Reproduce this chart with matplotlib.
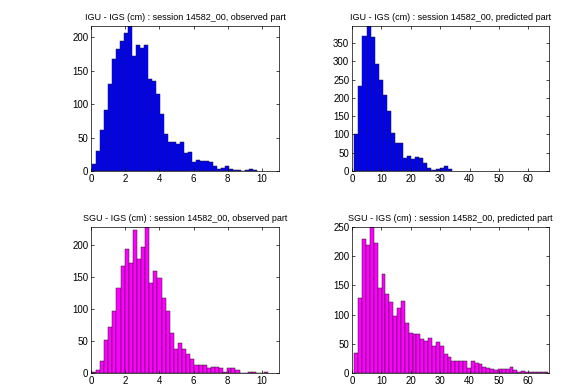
import numpy as np
import matplotlib
matplotlib.use("Agg")
import matplotlib.pyplot as plt

plt.rcParams['font.family'] = ['Liberation Sans', 'DejaVu Sans']

# histogram counts (bin start, bin width, counts)
igu_obs_start, igu_obs_width = 0.06, 0.235
igu_obs_counts = [10, 30, 62, 92, 130, 167, 183, 194, 207, 217, 172, 189, 184, 189,
                  137, 134, 115, 85, 56, 43, 43, 41, 44, 27, 29, 14, 16, 15, 15, 14,
                  8, 3, 5, 8, 3, 1, 2, 0, 2, 3, 2]

igu_pred_start, igu_pred_width = 0.8, 1.38
igu_pred_counts = [101, 233, 370, 397, 367, 293, 250, 208, 163, 103, 76, 76, 35, 41,
                   33, 37, 35, 23, 7, 3, 5, 8, 14, 5]

sgu_obs_start, sgu_obs_width = 0.05, 0.24
sgu_obs_counts = [2, 5, 18, 51, 72, 97, 132, 167, 193, 172, 224, 178, 196, 228, 141,
                  160, 148, 117, 97, 62, 38, 47, 37, 30, 22, 12, 12, 13, 8, 9, 10, 8,
                  2, 8, 8, 4, 0, 0, 2, 2, 0, 0, 1]

sgu_pred_start, sgu_pred_width = 0.8, 1.32
sgu_pred_counts = [35, 128, 229, 220, 250, 222, 146, 170, 136, 122, 98, 111, 124, 85,
                   69, 67, 67, 59, 54, 60, 46, 53, 46, 32, 27, 21, 20, 21, 20, 8, 21,
                   17, 15, 10, 8, 7, 5, 7, 7, 6, 11, 5, 1, 3, 2, 1, 2, 1, 1, 1]

titles = ["IGU - IGS (cm) : session 14582_00, observed part",
          "IGU - IGS (cm) : session 14582_00, predicted part",
          "SGU - IGS (cm) : session 14582_00, observed part",
          "SGU - IGS (cm) : session 14582_00, predicted part"]

panels = [
    (igu_obs_start, igu_obs_width, igu_obs_counts, (0, 11), np.arange(0, 11, 2), np.arange(0, 201, 50), 'blue'),
    (igu_pred_start, igu_pred_width, igu_pred_counts, (0, 67), np.arange(0, 61, 10), np.arange(0, 351, 50), 'blue'),
    (sgu_obs_start, sgu_obs_width, sgu_obs_counts, (0, 11), np.arange(0, 11, 2), np.arange(0, 201, 50), 'magenta'),
    (sgu_pred_start, sgu_pred_width, sgu_pred_counts, (0, 67), np.arange(0, 61, 10), np.arange(0, 251, 50), 'magenta'),
]

W, H = 579, 384
fig = plt.figure(figsize=(W / 100, H / 100), dpi=100)

# axes boxes in pixels: left, top, right, bottom
boxes = [(91, 26, 279, 171), (352, 26, 549, 171),
         (91, 227, 279, 373), (352, 227, 549, 373)]

for (start, width, counts, xlim, xt, yt, color), title, (l, t, r, b) in zip(panels, titles, boxes):
    ax = fig.add_axes([l / W, 1 - b / H, (r - l) / W, (b - t) / H])
    counts = np.array(counts)
    lefts = start + width * np.arange(len(counts))
    ax.bar(lefts, counts, width=width, align='edge', color=color,
           edgecolor='#202020', linewidth=0.35)
    ax.set_xlim(*xlim)
    ax.set_ylim(0, counts.max())
    ax.set_xticks(xt)
    ax.set_yticks(yt)
    ax.tick_params(direction='in', top=True, right=True, labelsize=7, length=2.5, width=0.5, pad=2)
    for s in ax.spines.values():
        s.set_linewidth(0.5)
    ax.set_title(title, fontsize=6.5, pad=4)

fig.savefig("out.png", dpi=100)
